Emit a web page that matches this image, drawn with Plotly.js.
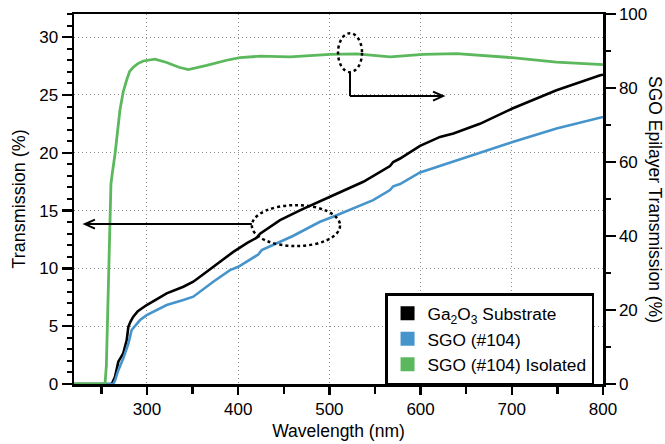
<!DOCTYPE html>
<html><head><meta charset="utf-8">
<script src="https://cdn.plot.ly/plotly-3.0.1.min.js"></script>
<style>html,body{margin:0;padding:0;background:#fff}#chart{width:665px;height:444px}</style>
</head><body><div id="chart"></div>
<script>
// Ga2O3 substrate (left axis, %)
const substrateWl = [220,261,262,265,268.6,271,274,277.8,279.6,282,285,290,299.7,310,321.6,339.9,350.8,365.5,380,394.7,410,420.3,424,445.9,470,489.7,500.7,537.2,566.5,570,577.5,599.4,621.3,636,650.5,665,700,749,797,800];
const substrateT  = [0,0,0.1,0.63,1.93,2.3,2.65,3.8,4.95,5.4,5.82,6.3,6.83,7.3,7.84,8.41,8.85,9.71,10.6,11.43,12.2,12.65,13.0,14.17,15.1,15.76,16.19,17.49,18.85,19.2,19.5,20.6,21.37,21.67,22.1,22.5,23.8,25.4,26.7,26.75];
// SGO (#104) (left axis, %)
const sgoWl = [220,263,265,268.6,274,279.6,283.2,292.4,299.7,321.6,339.9,350.8,372.7,391,400.2,420.3,422,425.8,460,489.7,504,548,566.5,570,577.5,599.4,650.5,665,700,749,797,800];
const sgoT  = [0,0,0.3,1.2,2.2,3.5,4.67,5.53,5.96,6.83,7.26,7.55,8.84,9.85,10.14,11.15,11.2,11.58,12.8,14.03,14.46,15.9,16.77,17.1,17.29,18.3,19.65,20.0,20.9,22.1,23.05,23.1];
// SGO (#104) isolated epilayer (right axis, %)
const isoWl = [220,254,255.5,257,259,259.5,260,260.5,262,265,270.4,274,277.8,281,285,290,296,308.8,321.6,335,345.4,355,365.5,387.4,402,424,456.8,500.7,530,566.5,603,639.6,665,700,749,797,800];
const isoT  = [0,0,5,20,38,44,50,54,57,62.2,74.1,79,82.2,84.5,85.6,86.6,87.3,87.8,86.9,85.6,85.0,85.5,86.1,87.5,88.2,88.6,88.4,89.1,89.2,88.4,89.1,89.3,88.8,88.2,87.0,86.4,86.3];

const names = ['Ga<sub>2</sub>O<sub>3</sub> Substrate','SGO (#104)','SGO (#104) Isolated'];
const colors = ['#000000','#4694cc','#5cb85c'];

const traces = [
  {x: substrateWl, y: substrateT, mode:'lines', line:{color:colors[0], width:2.6}, showlegend:false, yaxis:'y'},
  {x: sgoWl, y: sgoT, mode:'lines', line:{color:colors[1], width:2.6}, showlegend:false, yaxis:'y'},
  {x: isoWl, y: isoT, mode:'lines', line:{color:colors[2], width:2.8}, showlegend:false, yaxis:'y2'}
];
names.forEach((n,i)=>traces.push({x:[null], y:[null], mode:'markers', name:n,
  marker:{symbol:'square', size:14, color:colors[i]}, showlegend:true}));

const axisCommon = {ticks:'outside', tickcolor:'#000', tickwidth:2.5, showline:true, linecolor:'#000', linewidth:2.5,
  zeroline:false, automargin:false, tickfont:{size:17}};
const gridStyle = {showgrid:true, gridcolor:'#8c8c8c', griddash:'1px,3px', gridwidth:1};

const arrowLine = {color:'#000', width:2};
const layout = {
  width:665, height:444,
  margin:{l:74, r:62, t:14, b:60, pad:0},
  paper_bgcolor:'#fff', plot_bgcolor:'#fff',
  font:{family:'Liberation Sans, Arial, Helvetica, sans-serif', size:17, color:'#000'},
  showlegend:true,
  legend:{x:0.588, y:0.2456, xanchor:'left', yanchor:'top', bgcolor:'#fff', bordercolor:'#000', borderwidth:2.5,
          font:{size:17.3}, itemwidth:30, tracegroupgap:0},
  xaxis:Object.assign({}, axisCommon, gridStyle, {range:[220,800], tick0:0, dtick:100, ticklen:8, mirror:true,
    minor:{dtick:50, tick0:0, ticks:'outside', ticklen:7, tickwidth:2.5, tickcolor:'#000', showgrid:false},
    title:{text:'Wavelength (nm)', font:{size:17.5}, standoff:7}}),
  yaxis:Object.assign({}, axisCommon, gridStyle, {range:[0,32], tick0:0, dtick:5, ticklen:10,
    minor:{dtick:1, tick0:0, ticks:'outside', ticklen:5, tickwidth:2, tickcolor:'#000', showgrid:false},
    title:{text:'Transmission (%)', font:{size:18}, standoff:9}}),
  yaxis2:Object.assign({}, axisCommon, {overlaying:'y', side:'right', range:[0,100], tick0:0, dtick:20, ticklen:10,
    showgrid:false,
    minor:{dtick:10, tick0:0, ticks:'outside', ticklen:5, tickwidth:2.5, tickcolor:'#000', showgrid:false}}),
  shapes:[
    // dotted ellipses
    {type:'circle', xref:'x', yref:'y', x0:415, x1:511.7, y0:11.93, y1:15.47, line:{color:'#000', width:2.5, dash:'dot'}},
    {type:'circle', xref:'x', yref:'y', x0:509.5, x1:535.8, y0:26.97, y1:30.34, line:{color:'#000', width:2.5, dash:'dot'}},
    // left-pointing arrow (substrate/SGO -> left axis)
    {type:'line', xref:'x', yref:'y', x0:415, x1:233, y0:13.83, y1:13.83, line:arrowLine},
    {type:'path', xref:'x', yref:'y', xsizemode:'pixel', ysizemode:'pixel', xanchor:232, yanchor:13.83,
     path:'M10,-4.5 L0,0 L10,4.5', line:arrowLine},
    // bent arrow (isolated -> right axis)
    {type:'line', xref:'x', yref:'y', x0:522.6, x1:522.6, y0:26.97, y1:24.9, line:arrowLine},
    {type:'line', xref:'x', yref:'y', x0:522.6, x1:623.6, y0:24.9, y1:24.9, line:arrowLine},
    {type:'path', xref:'x', yref:'y', xsizemode:'pixel', ysizemode:'pixel', xanchor:624.6, yanchor:24.9,
     path:'M-10,-4.5 L0,0 L-10,4.5', line:arrowLine}
  ],
  annotations:[
    {xref:'paper', yref:'paper', x:1, xshift:52, y:0.5, xanchor:'center', yanchor:'middle', textangle:90,
     text:'SGO Epilayer Transmission (%)', showarrow:false, font:{size:17.5}}
  ]
};

Plotly.newPlot('chart', traces, layout, {displayModeBar:false, staticPlot:true});
</script>
</body></html>
